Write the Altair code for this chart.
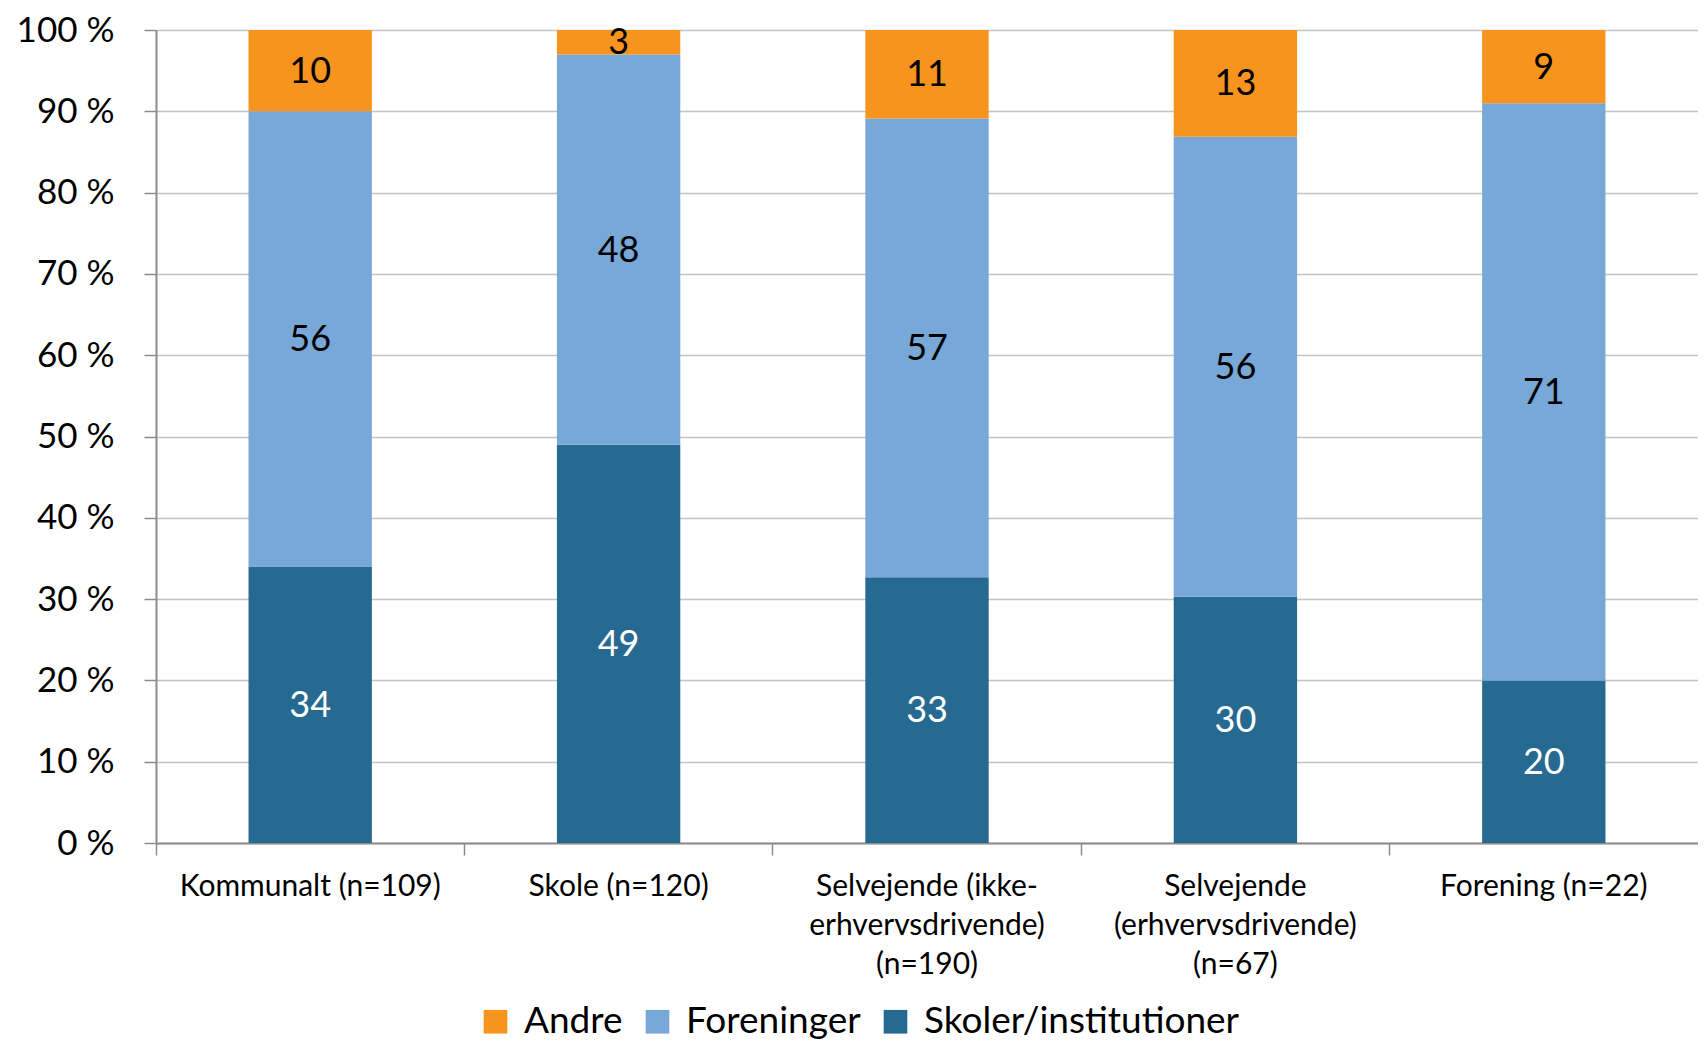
import altair as alt
import pandas as pd

categories = [
    "Kommunalt (n=109)",
    "Skole (n=120)",
    "Selvejende (ikke-\nerhvervsdrivende)\n(n=190)",
    "Selvejende\n(erhvervsdrivende)\n(n=67)",
    "Forening (n=22)",
]
series = ["Andre", "Foreninger", "Skoler/institutioner"]
andre = [10, 3, 11, 13, 9]
foreninger = [56, 48, 57, 56, 71]
skoler = [34, 49, 33, 30, 20]
colors = ["#F7941E", "#77A8D7", "#276A91"]
y_ticks = [0, 0.1, 0.2, 0.3, 0.4, 0.5, 0.6, 0.7, 0.8, 0.9, 1.0]

rows = []
for i, c in enumerate(categories):
    rows.append({"cat": c, "series": "Skoler/institutioner", "value": skoler[i], "ord": 0})
    rows.append({"cat": c, "series": "Foreninger", "value": foreninger[i], "ord": 1})
    rows.append({"cat": c, "series": "Andre", "value": andre[i], "ord": 2})
df = pd.DataFrame(rows)

FONT = "Lato"

x_enc = alt.X(
    "cat:N",
    sort=categories,
    title=None,
    scale=alt.Scale(paddingInner=0, paddingOuter=0),
    axis=alt.Axis(
        labelExpr="split(datum.label, '\\n')",
        labelAngle=0,
        labelFontSize=30,
        labelLineHeight=39,
        labelColor="#000000",
        labelFont=FONT,
        labelPadding=16,
        labelBaseline="top",
        bandPosition=0,
        tickSize=12,
        tickColor="#8C8C8C",
        tickWidth=1.5,
        domainColor="#8C8C8C",
        domainWidth=2,
        grid=False,
        labelLimit=400,
    ),
)

y_enc_axis = alt.Axis(
    values=y_ticks,
    labelExpr="round(datum.value*100) + ' %'",
    labelFontSize=35,
    labelColor="#000000",
    labelFont=FONT,
    labelPadding=30,
    tickSize=12,
    tickColor="#8C8C8C",
    tickWidth=1.5,
    domainColor="#8C8C8C",
    domainWidth=2,
    grid=True,
    gridColor="#C4C4C4",
    gridWidth=1.5,
)

base = alt.Chart(df)

bars = base.mark_bar(width=alt.RelativeBandSize(0.4)).encode(
    x=x_enc,
    y=alt.Y("value:Q", stack="normalize", title=None,
            scale=alt.Scale(domain=[0, 1]), axis=y_enc_axis),
    color=alt.Color(
        "series:N",
        scale=alt.Scale(domain=series, range=colors),
        legend=alt.Legend(
            title=None,
            orient="none",
            direction="horizontal",
            legendX=321,
            legendY=973,
            padding=0,
            symbolType="square",
            symbolSize=560,
            symbolStrokeWidth=0,
            symbolOpacity=1,
            labelFontSize=37,
            labelFont=FONT,
            labelColor="#000000",
            labelOffset=10,
            columnPadding=16,
            labelLimit=600,
        ),
    ),
    order=alt.Order("ord:Q", sort="ascending"),
)

labels = (
    base.transform_stack(
        stack="value",
        as_=["y0", "y1"],
        groupby=["cat"],
        sort=[alt.SortField("ord", order="ascending")],
        offset="normalize",
    )
    .transform_calculate(mid="(datum.y0 + datum.y1) / 2")
    .mark_text(font=FONT, fontSize=36, baseline="middle", align="center", dy=1)
    .encode(
        x=alt.X("cat:N", sort=categories),
        y=alt.Y("mid:Q"),
        text=alt.Text("value:Q"),
        color=alt.condition(
            "datum.series == 'Skoler/institutioner'",
            alt.value("#FFFFFF"),
            alt.value("#000000"),
        ),
    )
)

chart = (
    alt.layer(bars, labels)
    .properties(
        width=1542,
        height=813,
        padding={"left": 148, "top": 22, "right": 0, "bottom": 198},
        autosize=alt.AutoSizeParams(type="none"),
        background="#FFFFFF",
    )
    .configure_view(stroke=None)
    .configure_text(font=FONT)
)

chart.save("out.html", embed_options={"renderer": "svg", "actions": False})
